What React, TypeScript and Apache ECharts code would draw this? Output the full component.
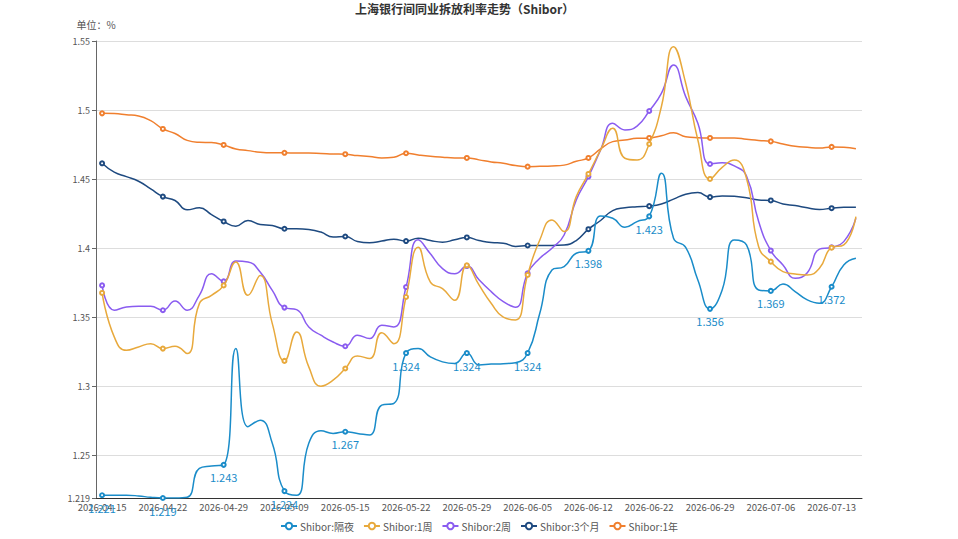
import React, { useEffect, useRef } from "react";
import * as echarts from "echarts";

const dates: string[] = [
  "2026-04-15", "2026-04-16", "2026-04-17", "2026-04-20", "2026-04-21",
  "2026-04-22", "2026-04-23", "2026-04-24", "2026-04-27", "2026-04-28",
  "2026-04-29", "2026-04-30", "2026-05-06", "2026-05-07", "2026-05-08",
  "2026-05-09", "2026-05-11", "2026-05-12", "2026-05-13", "2026-05-14",
  "2026-05-15", "2026-05-18", "2026-05-19", "2026-05-20", "2026-05-21",
  "2026-05-22", "2026-05-25", "2026-05-26", "2026-05-27", "2026-05-28",
  "2026-05-29", "2026-06-01", "2026-06-02", "2026-06-03", "2026-06-04",
  "2026-06-05", "2026-06-08", "2026-06-09", "2026-06-10", "2026-06-11",
  "2026-06-12", "2026-06-15", "2026-06-16", "2026-06-17", "2026-06-18",
  "2026-06-22", "2026-06-23", "2026-06-24", "2026-06-25", "2026-06-26",
  "2026-06-29", "2026-06-30", "2026-07-01", "2026-07-02", "2026-07-03",
  "2026-07-06", "2026-07-07", "2026-07-08", "2026-07-09", "2026-07-10",
  "2026-07-13", "2026-07-14", "2026-07-15",
];

const overnight: number[] = [
  1.221, 1.221, 1.221, 1.2205, 1.2195, 1.219, 1.219, 1.2195, 1.2405, 1.2422,
  1.243, 1.3272, 1.2706, 1.2754, 1.2586, 1.224, 1.221, 1.2586, 1.2677, 1.2658,
  1.267, 1.2658, 1.2646, 1.2863, 1.2875, 1.324, 1.3272, 1.3212, 1.3176, 1.3164,
  1.324, 1.3154, 1.316, 1.3163, 1.317, 1.324, 1.3528, 1.3842, 1.3866, 1.3963,
  1.398, 1.4233, 1.4216, 1.4151, 1.4192, 1.423, 1.4542, 1.4071, 1.4005, 1.3769,
  1.356, 1.3697, 1.4059, 1.4023, 1.3697, 1.369, 1.374, 1.3685, 1.3625, 1.3601,
  1.372, 1.3878, 1.3926,
];

const week1: number[] = [
  1.3675, 1.3357, 1.326, 1.3284, 1.3308, 1.3272, 1.3289, 1.3236, 1.3598, 1.3658,
  1.373, 1.3899, 1.3658, 1.3802, 1.3453, 1.3183, 1.3393, 1.314, 1.3, 1.3043,
  1.3128, 1.3219, 1.32, 1.3386, 1.3308, 1.3646, 1.4007, 1.3754, 1.3706, 1.3622,
  1.3875, 1.3733, 1.36, 1.35, 1.348, 1.3806, 1.4059, 1.4204, 1.412, 1.4373,
  1.4537, 1.4711, 1.4868, 1.4651, 1.4638, 1.4754, 1.5024, 1.5459, 1.5194, 1.4783,
  1.4501, 1.4585, 1.4638, 1.4506, 1.401, 1.3902, 1.383, 1.3813, 1.3806, 1.3854,
  1.4003, 1.4023, 1.4228,
];

const week2: number[] = [
  1.373, 1.355, 1.3573, 1.3578, 1.3578, 1.355, 1.3617, 1.355, 1.3658, 1.3814,
  1.3759, 1.3906, 1.3899, 1.3827, 1.3694, 1.3569, 1.3554, 1.3429, 1.3369, 1.332,
  1.3289, 1.3369, 1.3345, 1.3441, 1.3429, 1.3718, 1.406, 1.3959, 1.3851, 1.3814,
  1.387, 1.377, 1.3685, 1.3612, 1.3572, 1.3818, 1.3926, 1.3999, 1.4095, 1.4349,
  1.4518, 1.4711, 1.4904, 1.4856, 1.4884, 1.4993, 1.5121, 1.5326, 1.5097, 1.4904,
  1.4609, 1.4619, 1.4595, 1.4522, 1.4192, 1.3982, 1.3878, 1.3782, 1.3822, 1.3992,
  1.4006, 1.4047, 1.4216,
];

const month3: number[] = [
  1.4614, 1.455, 1.4518, 1.4484, 1.4429, 1.4373, 1.4345, 1.4277, 1.4292, 1.4243,
  1.4193, 1.4159, 1.42, 1.4171, 1.4164, 1.414, 1.414, 1.4135, 1.4116, 1.408,
  1.4084, 1.4048, 1.4039, 1.4051, 1.4065, 1.4051, 1.4072, 1.4055, 1.4043, 1.406,
  1.4077, 1.4055, 1.404, 1.4036, 1.4012, 1.4019, 1.4019, 1.4019, 1.4022, 1.4055,
  1.4137, 1.42, 1.4272, 1.4292, 1.4299, 1.4304, 1.432, 1.4355, 1.439, 1.4402,
  1.4369, 1.4378, 1.4375, 1.4364, 1.4349, 1.4345, 1.432, 1.4308, 1.4292, 1.428,
  1.4289, 1.4296, 1.4296,
];

const year1: number[] = [
  1.4976, 1.4974, 1.4966, 1.4957, 1.4923, 1.4863, 1.483, 1.478, 1.4766, 1.4764,
  1.4747, 1.4718, 1.4706, 1.4694, 1.469, 1.469, 1.4689, 1.4689, 1.4686, 1.4682,
  1.468, 1.467, 1.4663, 1.4653, 1.4658, 1.4687, 1.4675, 1.4665, 1.4658, 1.4653,
  1.4653, 1.4639, 1.4624, 1.4614, 1.4598, 1.459, 1.4592, 1.4595, 1.4601, 1.4629,
  1.4653, 1.4718, 1.4771, 1.4783, 1.4795, 1.4798, 1.4814, 1.4835, 1.4807, 1.48,
  1.4798, 1.4798, 1.4798, 1.4789, 1.478, 1.4773, 1.4754, 1.4737, 1.473, 1.4725,
  1.4733, 1.473, 1.472,
];

const seriesNames = ["Shibor:隔夜", "Shibor:1周", "Shibor:2周", "Shibor:3个月", "Shibor:1年"];
const seriesColors = ["#1a8cc9", "#e8a93c", "#8a5cf0", "#1e4a80", "#f07f2e"];
const seriesData = [overnight, week1, week2, month3, year1];

const FONT = "'Noto Sans CJK SC', 'Noto Sans', sans-serif";

export default function App() {
  const ref = useRef<HTMLDivElement>(null);
  useEffect(() => {
    const chart = echarts.init(ref.current!, null, { renderer: "svg" });
    chart.setOption({
      animation: false,
      textStyle: { fontFamily: FONT },
      title: {
        text: "上海银行间同业拆放利率走势（Shibor）",
        left: 350,
        top: -3,
        textStyle: { fontSize: 12, fontWeight: "bold", color: "#333", fontFamily: FONT },
      },
      legend: {
        bottom: 3,
        left: "center",
        itemWidth: 16,
        itemHeight: 8,
        itemGap: 9,
        textStyle: { fontSize: 10, color: "#555", padding: [0, 0, 0, -2] },
        data: seriesNames,
      },
      grid: { left: 96, right: 96, top: 41, bottom: 41, containLabel: false },
      xAxis: {
        type: "category",
        data: dates,
        boundaryGap: true,
        axisLine: { lineStyle: { color: "#333" } },
        axisTick: { interval: 4, lineStyle: { color: "#333" } },
        axisLabel: { interval: 4, fontSize: 9.5, color: "#555", margin: 4 },
      },
      yAxis: {
        type: "value",
        min: 1.219,
        max: 1.55,
        name: "单位：%",
        nameGap: 12,
        nameTextStyle: { fontSize: 10, color: "#555" },
        axisLine: { show: true, lineStyle: { color: "#666" } },
        axisTick: { show: true, length: 4, lineStyle: { color: "#666" } },
        axisLabel: { fontSize: 9, color: "#555", margin: 6 },
        splitLine: { lineStyle: { color: "#ddd" } },
      },
      series: seriesData.map((d, i) => ({
        name: seriesNames[i],
        type: "line",
        data: d,
        smooth: true,
        symbol: "emptyCircle",
        symbolSize: 4,
        showAllSymbol: false,
        color: seriesColors[i],
        lineStyle: { width: 1.5, color: seriesColors[i] },
        itemStyle: { color: seriesColors[i], borderWidth: 1 },
        label:
          i === 0
            ? { show: true, position: "bottom", fontSize: 11, color: seriesColors[0], distance: 4 }
            : { show: false },
        z: 10 - i,
      })),
    });
    return () => chart.dispose();
  }, []);
  return (
    <div
      ref={ref}
      style={{ position: "fixed", left: 0, top: 0, width: 958, height: 539, background: "#fff" }}
    />
  );
}
